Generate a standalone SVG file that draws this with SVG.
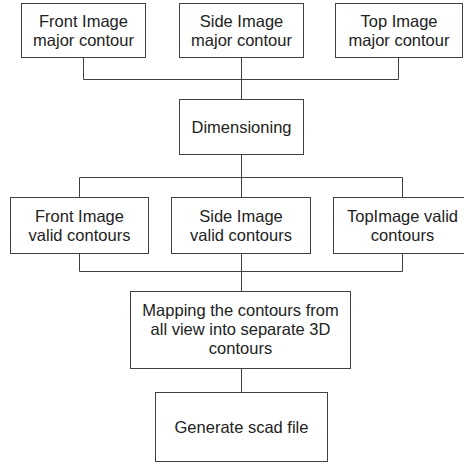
<svg xmlns="http://www.w3.org/2000/svg" width="464" height="465" viewBox="0 0 464 465">
<style>
.b{fill:#fff;stroke:#404040;stroke-width:1}
.t{font-family:"Liberation Sans",Arial,sans-serif;font-size:16.5px;fill:#222;text-anchor:middle}
.c{fill:none;stroke:#404040;stroke-width:1}
</style>
<rect width="464" height="465" fill="#fff"/>
<g id="connectors">
<path class="c" d="M83.5,57 V79.5 H398.5 V57 M241.5,57 V99"/>
<path class="c" d="M241.5,155 V177.5 M79.5,197 V177.5 H402.5 V197 M241.5,177.5 V197"/>
<path class="c" d="M79.5,253 V271.5 H402.5 V253 M241.5,253 V291"/>
<path class="c" d="M241.5,368 V393"/>
</g>
<g id="front-major"><rect class="b" x="21.5" y="3.5" width="124" height="54"/><text class="t" x="83.5" y="27">Front Image</text><text class="t" x="83.5" y="46">major contour</text></g>
<g id="side-major"><rect class="b" x="179.5" y="3.5" width="124" height="54"/><text class="t" x="241.5" y="27">Side Image</text><text class="t" x="241.5" y="46">major contour</text></g>
<g id="top-major"><rect class="b" x="335.5" y="3.5" width="127" height="54"/><text class="t" x="399" y="27">Top Image</text><text class="t" x="399" y="46">major contour</text></g>
<g id="dimensioning"><rect class="b" x="179.5" y="99.5" width="124" height="55"/><text class="t" x="241.5" y="133">Dimensioning</text></g>
<g id="front-valid"><rect class="b" x="10.5" y="197.5" width="138" height="56"/><text class="t" x="79.5" y="222">Front Image</text><text class="t" x="79.5" y="241">valid contours</text></g>
<g id="side-valid"><rect class="b" x="171.5" y="197.5" width="139" height="56"/><text class="t" x="241" y="222">Side Image</text><text class="t" x="241" y="241">valid contours</text></g>
<g id="top-valid"><rect class="b" x="333.5" y="197.5" width="138" height="56"/><text class="t" x="402.5" y="222">TopImage valid</text><text class="t" x="402.5" y="241">contours</text></g>
<g id="mapping"><rect class="b" x="130.5" y="291.5" width="220" height="77"/><text class="t" x="240.5" y="316">Mapping the contours from</text><text class="t" x="240.5" y="335">all view into separate 3D</text><text class="t" x="240.5" y="354">contours</text></g>
<g id="generate"><rect class="b" x="155.5" y="392.5" width="172" height="69"/><text class="t" x="241.5" y="433">Generate scad file</text></g>
</svg>
